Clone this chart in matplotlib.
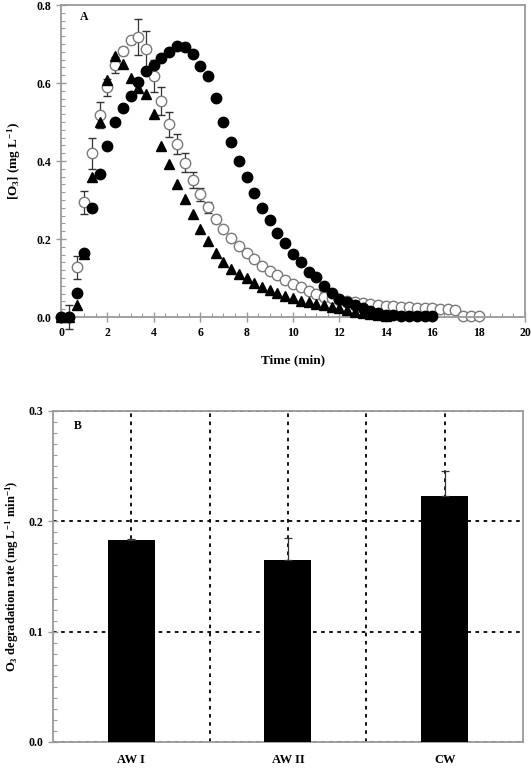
import matplotlib
matplotlib.use("Agg")
import matplotlib.pyplot as plt
from matplotlib.ticker import MultipleLocator

plt.rcParams['font.family'] = ['Liberation Serif', 'DejaVu Serif']
plt.rcParams['font.weight'] = 'bold'
plt.rcParams['mathtext.fontset'] = 'custom'
plt.rcParams['mathtext.rm'] = 'Liberation Serif:bold'
plt.rcParams['mathtext.it'] = 'Liberation Serif:bold'
plt.rcParams['mathtext.bf'] = 'Liberation Serif:bold'

# sampling times (min), one point every 20 s
time_min = [0, 0.33, 0.67, 1.0, 1.33, 1.67, 2.0, 2.33, 2.67, 3.0, 3.33, 3.67,
            4.0, 4.33, 4.67, 5.0, 5.33, 5.67, 6.0, 6.33, 6.67, 7.0, 7.33, 7.67,
            8.0, 8.33, 8.67, 9.0, 9.33, 9.67, 10.0, 10.33, 10.67, 11.0, 11.33,
            11.67, 12.0, 12.33, 12.67, 13.0, 13.33, 13.67, 14.0, 14.33, 14.67,
            15.0, 15.33, 15.67, 16.0, 16.33, 16.67, 17.0, 17.33, 17.67, 18.0]

# filled circles
o3_filled = [0.0, 0.0, 0.062, 0.165, 0.28, 0.367, 0.439, 0.501, 0.537, 0.567,
             0.603, 0.631, 0.646, 0.664, 0.680, 0.696, 0.693, 0.674, 0.644,
             0.618, 0.562, 0.499, 0.45, 0.40, 0.358, 0.319, 0.279, 0.249,
             0.215, 0.189, 0.162, 0.140, 0.116, 0.102, 0.080, 0.062, 0.046,
             0.039, 0.031, 0.022, 0.015, 0.010, 0.006, 0.004, 0.003, 0.003,
             0.003, 0.003, 0.003]

# open circles (mean +/- sd)
o3_open = [0.0, 0.0, 0.127, 0.294, 0.42, 0.518, 0.589, 0.646, 0.682, 0.709,
           0.719, 0.686, 0.618, 0.554, 0.494, 0.444, 0.396, 0.351, 0.315,
           0.281, 0.251, 0.226, 0.202, 0.183, 0.165, 0.149, 0.132, 0.119,
           0.108, 0.095, 0.085, 0.076, 0.067, 0.059, 0.052, 0.048, 0.044,
           0.041, 0.038, 0.036, 0.034, 0.031, 0.029, 0.027, 0.026, 0.025,
           0.024, 0.023, 0.022, 0.021, 0.020, 0.018, 0.003, 0.003, 0.003]
o3_open_err = [0.0, 0.03, 0.03, 0.03, 0.04, 0.033, 0.022, 0.02, 0.01, 0.01,
               0.046, 0.047, 0.04, 0.036, 0.032, 0.025, 0.025, 0.02, 0.017,
               0.014, 0.01, 0.005, 0.005, 0.004, 0.004, 0.004, 0.003, 0.003,
               0.003, 0.003, 0.003, 0.002, 0.002, 0.002, 0.002, 0.002, 0.002,
               0.002, 0.002, 0.002, 0.002, 0.002, 0.002, 0.002, 0.002, 0.002,
               0.002, 0.002, 0.002, 0.002, 0.002, 0.002, 0.002, 0.002, 0.002]

# filled triangles
o3_tri = [0.0, 0.0, 0.031, 0.162, 0.36, 0.50, 0.608, 0.668, 0.65, 0.612,
          0.586, 0.572, 0.52, 0.439, 0.393, 0.342, 0.302, 0.264, 0.226,
          0.196, 0.163, 0.140, 0.123, 0.111, 0.099, 0.088, 0.078, 0.069,
          0.061, 0.055, 0.048, 0.042, 0.038, 0.033, 0.030, 0.026, 0.022,
          0.018, 0.014, 0.010, 0.007, 0.004, 0.002]

# panel B
waters = ['AW I', 'AW II', 'CW']
rate = [0.183, 0.165, 0.223]
rate_err = [0.001, 0.020, 0.023]

spine_col = '#9a9a9a'

fig = plt.figure(figsize=(5.31, 7.70), dpi=100)

# ---------- panel A ----------
ax1 = fig.add_axes([0.1149, 0.5883, 0.8738, 0.4052])
ax1.errorbar(time_min[:len(o3_open)], o3_open, yerr=o3_open_err, fmt='o',
             ms=7.5, mfc='white', mec='#7a7a7a', mew=1.0, ecolor='#333333',
             elinewidth=0.9, capsize=3, capthick=0.9, zorder=2, clip_on=False)
ax1.plot(time_min[:len(o3_tri)], o3_tri, '^', ms=7.5, color='black',
         zorder=3, clip_on=False)
ax1.plot(time_min[:len(o3_filled)], o3_filled, 'o', ms=7.5, color='black',
         zorder=4, clip_on=False)

ax1.set_xlim(0, 20)
ax1.set_ylim(0, 0.8)
ax1.xaxis.set_minor_locator(MultipleLocator(0.5))
ax1.yaxis.set_minor_locator(MultipleLocator(0.02))
ax1.set_yticks([0, 0.2, 0.4, 0.6, 0.8])
ax1.set_yticklabels(['0.0', '0.2', '0.4', '0.6', '0.8'])
ax1.set_xticks(range(0, 21, 2))
ax1.set_xticklabels([str(v) for v in range(0, 21, 2)])
ax1.set_xlabel('Time (min)', fontsize=9.5, fontweight='bold', labelpad=11)
ax1.set_ylabel('[O$_3$] (mg L$^{-1}$)', fontsize=9.5, fontweight='bold',
               labelpad=10)
ax1.text(0.04, 0.96, 'A', transform=ax1.transAxes, fontsize=8.5,
         fontweight='bold', va='center')

# ---------- panel B ----------
ax2 = fig.add_axes([0.0998, 0.0364, 0.8851, 0.4299])
xpos = [1, 2, 3]
ax2.bar(xpos, rate, width=0.3, color='black', zorder=3)
ax2.errorbar(xpos, rate, yerr=[[0, 0, 0], rate_err], fmt='none',
             ecolor='#333333', elinewidth=0.9, capsize=3, capthick=0.9,
             zorder=4)
ax2.set_xlim(0.5, 3.5)
ax2.set_ylim(0, 0.3)
ax2.set_xticks(xpos)
ax2.set_xticklabels(waters)
ax2.set_xticks([1.5, 2.5], minor=True)
ax2.yaxis.set_minor_locator(MultipleLocator(0.01))
ax2.set_yticks([0, 0.1, 0.2, 0.3])
ax2.set_yticklabels(['0.0', '0.1', '0.2', '0.3'])
ax2.grid(True, which='both', axis='x', color='black', linestyle=(0, (2, 2.5)),
         linewidth=1.3, zorder=1)
ax2.grid(True, which='major', axis='y', color='black',
         linestyle=(0, (2, 2.5)), linewidth=1.3, zorder=1)
ax2.set_axisbelow(True)
ax2.set_ylabel('O$_3$ degradation rate (mg L$^{-1}$ min$^{-1}$)',
               fontsize=9, fontweight='bold', labelpad=5)
ax2.text(0.045, 0.955, 'B', transform=ax2.transAxes, fontsize=8.5,
         fontweight='bold', va='center')

for ax in (ax1, ax2):
    for s in ax.spines.values():
        s.set_color(spine_col)
        s.set_linewidth(1.3)
    ax.tick_params(which='major', direction='inout', length=7, width=1.0,
                   color=spine_col, labelsize=8.5)
    ax.tick_params(which='minor', direction='in', length=3, width=0.8,
                   color=spine_col)
    for lab in ax.get_xticklabels() + ax.get_yticklabels():
        lab.set_fontweight('bold')
ax2.tick_params(axis='x', which='both', length=0, labelsize=9, pad=9)

fig.savefig('out.png', dpi=100)
